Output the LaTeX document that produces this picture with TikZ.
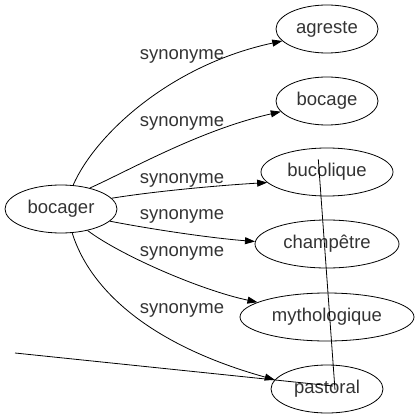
\documentclass[tikz,border=0pt]{standalone}
\usepackage{fontspec}
\setmainfont{Liberation Sans}
\usetikzlibrary{shapes.geometric,arrows.meta}
\definecolor{txt}{HTML}{333333}
\tikzset{
  word/.style={draw, ellipse, inner sep=0pt, minimum height=48pt, line width=0.8pt, text=txt},
  rel/.style={line width=0.8pt, -{Triangle[length=10pt,width=7pt]}},
  stray/.style={line width=0.8pt},
  lbl/.style={inner sep=0pt, anchor=center, text=txt}
}
\begin{document}
\begin{tikzpicture}[x=1pt,y=-1pt,font=\fontsize{18.5}{20}\selectfont]
\useasboundingbox (0,0) rectangle (419,419);
\node[word, minimum width=112pt] (bocager) at (61,209) {bocager};
\node[word, minimum width=102pt] (agreste) at (327,29) {agreste};
\node[word, minimum width=102pt] (bocage) at (327,101) {bocage};
\node[word, minimum width=132pt] (bucolique) at (327,172) {bucolique};
\node[word, minimum width=144pt] (champetre) at (327,244) {champêtre};
\node[word, minimum width=174pt] (mythologique) at (327,317) {mythologique};
\node[word, minimum width=112pt] (pastoral) at (327,389) {pastoral};

\draw[rel] (bocager.63) .. controls (95,135) and (170,65) .. (agreste.195);
\draw[rel] (bocager.36) .. controls (130,170) and (200,130) .. (bocage.193.5);
\draw[rel] (bocager.12) .. controls (150,192) and (210,186) .. (bucolique.190);
\draw[rel] (bocager.-14) .. controls (150,229) and (210,238) .. (champetre.178);
\draw[rel] (bocager.-39) .. controls (120,255) and (200,290) .. (mythologique.168);
\draw[rel] (bocager.-65) .. controls (90,290) and (150,345) .. (pastoral.170.5);

\node[lbl] (l1) at (182,56) {synonyme};
\node[lbl] (l2) at (182,123) {synonyme};
\node[lbl] (l3) at (182,180) {synonyme};
\node[lbl] (l4) at (182,216.5) {synonyme};
\node[lbl] (l5) at (182,253) {synonyme};
\node[lbl] (l6) at (182,310) {synonyme};

\coordinate (freeA) at (15,353);
\coordinate (endA) at (333,386);
\coordinate (freeB) at (318.3,159.3);
\coordinate (endB) at (335,390);
\draw[stray] (freeA) -- (endA);
\draw[stray] (freeB) -- (endB);
\end{tikzpicture}
\end{document}
